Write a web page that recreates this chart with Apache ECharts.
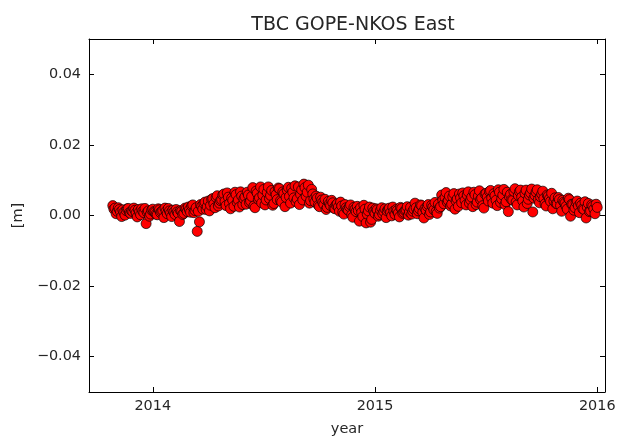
<!DOCTYPE html>
<html>
<head>
<meta charset="utf-8">
<script src="https://cdn.jsdelivr.net/npm/echarts@6/dist/echarts.min.js"></script>
<style>html,body{margin:0;padding:0;background:#fff}#c{width:618px;height:436px}</style>
</head>
<body>
<div id="c"></div>
<script>
// decimal years of the observations (first pass)
const years = [
2013.82,2013.83,2013.84,2013.85,2013.86,2013.87,2013.88,2013.89,2013.90,2013.91,
2013.92,2013.93,2013.94,2013.95,2013.96,2013.97,2013.98,2013.99,2014.00,2014.01,
2014.02,2014.03,2014.04,2014.05,2014.06,2014.07,2014.08,2014.09,2014.10,2014.11,
2014.12,2014.13,2014.14,2014.15,2014.16,2014.17,2014.18,2014.19,2014.20,2014.21,
2014.22,2014.23,2014.24,2014.25,2014.26,2014.27,2014.28,2014.29,2014.30,2014.31,
2014.32,2014.33,2014.34,2014.35,2014.36,2014.37,2014.38,2014.39,2014.40,2014.41,
2014.42,2014.43,2014.44,2014.45,2014.46,2014.47,2014.48,2014.49,2014.50,2014.51,
2014.52,2014.53,2014.54,2014.55,2014.56,2014.57,2014.58,2014.59,2014.60,2014.61,
2014.62,2014.63,2014.64,2014.65,2014.66,2014.67,2014.68,2014.69,2014.70,2014.71,
2014.72,2014.73,2014.74,2014.75,2014.76,2014.77,2014.78,2014.79,2014.80,2014.81,
2014.82,2014.83,2014.84,2014.85,2014.86,2014.87,2014.88,2014.89,2014.90,2014.91,
2014.92,2014.93,2014.94,2014.95,2014.96,2014.97,2014.98,2014.99,2015.00,2015.01,
2015.02,2015.03,2015.04,2015.05,2015.06,2015.07,2015.08,2015.09,2015.10,2015.11,
2015.12,2015.13,2015.14,2015.15,2015.16,2015.17,2015.18,2015.19,2015.20,2015.21,
2015.22,2015.23,2015.24,2015.25,2015.26,2015.27,2015.28,2015.29,2015.30,2015.31,
2015.32,2015.33,2015.34,2015.35,2015.36,2015.37,2015.38,2015.39,2015.40,2015.41,
2015.42,2015.43,2015.44,2015.45,2015.46,2015.47,2015.48,2015.49,2015.50,2015.51,
2015.52,2015.53,2015.54,2015.55,2015.56,2015.57,2015.58,2015.59,2015.60,2015.61,
2015.62,2015.63,2015.64,2015.65,2015.66,2015.67,2015.68,2015.69,2015.70,2015.71,
2015.72,2015.73,2015.74,2015.75,2015.76,2015.77,2015.78,2015.79,2015.80,2015.81,
2015.82,2015.83,2015.84,2015.85,2015.86,2015.87,2015.88,2015.89,2015.90,2015.91,
2015.92,2015.93,2015.94,2015.95,2015.96,2015.97,2015.98,2015.99,2016.00
];
// East component [m] (first pass)
const east = [
0.0028,0.0021,0.0012,0.0017,-0.0003,0.0009,0.0014,0.0020,0.0006,0.0011,
0.0015,-0.0004,0.0010,0.0019,0.0008,-0.0023,0.0013,0.0004,0.0018,0.0009,
0.0002,0.0016,0.0011,-0.0006,0.0012,0.0020,0.0007,0.0015,0.0003,0.0010,
-0.0017,0.0012,0.0006,0.0018,0.0024,0.0009,0.0030,0.0014,-0.0045,-0.0018,
0.0026,0.0034,0.0017,0.0041,0.0029,0.0048,0.0022,0.0056,0.0035,0.0045,
0.0061,0.0028,0.0052,0.0019,0.0043,0.0066,0.0037,0.0024,0.0055,0.0047,
0.0032,0.0058,0.0041,0.0079,0.0022,0.0063,0.0050,0.0036,0.0074,0.0044,
0.0081,0.0057,0.0029,0.0068,0.0045,0.0076,0.0038,0.0062,0.0051,0.0080,
0.0035,0.0066,0.0084,0.0047,0.0031,0.0073,0.0089,0.0055,0.0086,0.0042,
0.0061,0.0038,0.0049,0.0025,0.0044,0.0031,0.0017,0.0040,0.0028,0.0036,
0.0019,0.0033,0.0012,0.0027,0.0004,0.0022,0.0015,0.0030,-0.0005,0.0018,
0.0026,-0.0016,0.0009,0.0029,-0.0021,0.0013,-0.0019,0.0021,0.0006,0.0016,
0.0002,0.0022,0.0011,-0.0006,0.0018,0.0008,0.0024,0.0003,0.0014,-0.0004,
0.0020,0.0009,0.0016,0.0001,0.0023,0.0012,0.0035,0.0005,0.0019,0.0028,
-0.0007,0.0015,0.0031,0.0010,0.0024,0.0037,0.0006,0.0021,0.0058,0.0033,
0.0065,0.0042,0.0027,0.0053,0.0018,0.0047,0.0061,0.0036,0.0056,0.0030,
0.0067,0.0044,0.0025,0.0059,0.0038,0.0070,0.0049,0.0021,0.0063,0.0041,
0.0071,0.0035,0.0056,0.0028,0.0066,0.0047,0.0074,0.0039,0.0011,0.0060,
0.0043,0.0076,0.0030,0.0068,0.0052,0.0024,0.0072,0.0046,0.0064,0.0010,
0.0057,0.0073,0.0036,0.0061,0.0048,0.0027,0.0055,0.0040,0.0019,0.0050,
0.0033,0.0045,0.0012,0.0038,0.0026,0.0049,-0.0002,0.0031,0.0022,0.0041,
0.0008,0.0029,0.0017,-0.0007,0.0034,0.0013,0.0026,0.0005,0.0023
];
// decimal years of the observations (second pass, in between)
const years2 = [
2013.825,2013.835,2013.845,2013.855,2013.865,2013.875,2013.885,2013.895,2013.905,2013.915,
2013.925,2013.935,2013.945,2013.955,2013.965,2013.975,2013.985,2013.995,2014.005,2014.015,
2014.025,2014.035,2014.045,2014.055,2014.065,2014.075,2014.085,2014.095,2014.105,2014.115,
2014.125,2014.135,2014.145,2014.155,2014.165,2014.175,2014.185,2014.195,2014.205,2014.215,
2014.225,2014.235,2014.245,2014.255,2014.265,2014.275,2014.285,2014.295,2014.305,2014.315,
2014.325,2014.335,2014.345,2014.355,2014.365,2014.375,2014.385,2014.395,2014.405,2014.415,
2014.425,2014.435,2014.445,2014.455,2014.465,2014.475,2014.485,2014.495,2014.505,2014.515,
2014.525,2014.535,2014.545,2014.555,2014.565,2014.575,2014.585,2014.595,2014.605,2014.615,
2014.625,2014.635,2014.645,2014.655,2014.665,2014.675,2014.685,2014.695,2014.705,2014.715,
2014.725,2014.735,2014.745,2014.755,2014.765,2014.775,2014.785,2014.795,2014.805,2014.815,
2014.825,2014.835,2014.845,2014.855,2014.865,2014.875,2014.885,2014.895,2014.905,2014.915,
2014.925,2014.935,2014.945,2014.955,2014.965,2014.975,2014.985,2014.995,2015.005,2015.015,
2015.025,2015.035,2015.045,2015.055,2015.065,2015.075,2015.085,2015.095,2015.105,2015.115,
2015.125,2015.135,2015.145,2015.155,2015.165,2015.175,2015.185,2015.195,2015.205,2015.215,
2015.225,2015.235,2015.245,2015.255,2015.265,2015.275,2015.285,2015.295,2015.305,2015.315,
2015.325,2015.335,2015.345,2015.355,2015.365,2015.375,2015.385,2015.395,2015.405,2015.415,
2015.425,2015.435,2015.445,2015.455,2015.465,2015.475,2015.485,2015.495,2015.505,2015.515,
2015.525,2015.535,2015.545,2015.555,2015.565,2015.575,2015.585,2015.595,2015.605,2015.615,
2015.625,2015.635,2015.645,2015.655,2015.665,2015.675,2015.685,2015.695,2015.705,2015.715,
2015.725,2015.735,2015.745,2015.755,2015.765,2015.775,2015.785,2015.795,2015.805,2015.815,
2015.825,2015.835,2015.845,2015.855,2015.865,2015.875,2015.885,2015.895,2015.905,2015.915,
2015.925,2015.935,2015.945,2015.955,2015.965,2015.975,2015.985,2015.995
];
// East component [m] (second pass)
const east2 = [
0.0018,0.0005,0.0022,0.0010,0.0016,0.0001,0.0019,0.0008,0.0013,0.0021,
0.0007,0.0017,0.0002,0.0012,0.0020,0.0009,-0.0002,0.0015,0.0011,0.0004,
0.0019,0.0008,0.0014,0.0021,0.0005,0.0013,-0.0003,0.0010,0.0017,0.0006,
0.0014,0.0003,0.0021,0.0011,0.0016,0.0027,0.0008,0.0022,0.0012,0.0031,
0.0018,0.0038,0.0025,0.0013,0.0046,0.0033,0.0051,0.0027,0.0042,0.0058,
0.0040,0.0064,0.0034,0.0049,0.0026,0.0059,0.0044,0.0067,0.0031,0.0053,
0.0066,0.0037,0.0054,0.0027,0.0069,0.0046,0.0081,0.0058,0.0030,0.0065,
0.0048,0.0071,0.0034,0.0059,0.0078,0.0042,0.0067,0.0025,0.0072,0.0054,
0.0077,0.0050,0.0039,0.0081,0.0060,0.0044,0.0079,0.0066,0.0035,0.0074,
0.0047,0.0055,0.0029,0.0052,0.0037,0.0046,0.0023,0.0033,0.0043,0.0021,
0.0030,0.0024,0.0038,0.0009,0.0031,0.0017,0.0025,0.0002,0.0023,0.0011,
0.0014,0.0022,-0.0003,0.0018,0.0004,0.0024,-0.0011,0.0012,0.0019,-0.0002,
0.0015,0.0005,0.0019,0.0013,0.0021,-0.0001,0.0012,0.0017,0.0007,0.0023,
0.0006,0.0014,0.0025,0.0010,0.0004,0.0018,0.0022,0.0013,0.0030,0.0009,
0.0020,0.0026,0.0003,0.0029,0.0016,0.0011,0.0032,0.0025,0.0044,0.0051,
0.0038,0.0055,0.0032,0.0062,0.0041,0.0026,0.0050,0.0064,0.0043,0.0058,
0.0035,0.0052,0.0066,0.0031,0.0055,0.0045,0.0028,0.0061,0.0052,0.0068,
0.0049,0.0062,0.0043,0.0073,0.0037,0.0058,0.0031,0.0066,0.0053,0.0045,
0.0068,0.0038,0.0057,0.0072,0.0041,0.0063,0.0034,0.0058,0.0075,0.0049,
0.0066,0.0045,0.0053,0.0069,0.0033,0.0058,0.0047,0.0063,0.0041,0.0034,
0.0051,0.0028,0.0043,0.0035,0.0018,0.0045,0.0032,0.0015,0.0037,0.0027,
0.0035,0.0019,0.0039,0.0024,0.0011,0.0030,0.0018,0.0032
];
const xTicks = [2014, 2015, 2016];
const yTicks = [-0.04, -0.02, 0.00, 0.02, 0.04];
const titleText = 'TBC GOPE-NKOS East';
const xName = 'year';
const yName = '[m]';

const FONT = 'DejaVu Sans';
const points = years.map((y, i) => [y, east[i]])
  .concat(years2.map((y, i) => [y, east2[i]]))
  .sort((a, b) => a[0] - b[0]);
const yFmt = v => { const s = Math.abs(v).toFixed(2); return (v < -1e-9 ? '\u2212' : '') + s; };

const xMin = 2013.713, xMax = 2016.035, yMin = -0.05, yMax = 0.05;
const axisLineStyle = { show: true, onZero: false, lineStyle: { color: '#000', width: 1 } };
const tickStyle = { lineStyle: { color: '#000', width: 1 } };
const TXT = '#262626';

const chart = echarts.init(document.getElementById('c'), null, { renderer: 'canvas' });
chart.setOption({
  animation: false,
  backgroundColor: '#fff',
  title: {
    text: titleText, left: 348, top: 11, textAlign: 'center',
    textStyle: { fontFamily: FONT, fontSize: 19, fontWeight: 'normal', color: TXT }
  },
  grid: { left: 89, right: 13, top: 39, bottom: 44, containLabel: false, outerBoundsMode: 'none' },
  xAxis: [{
    type: 'value', min: xMin, max: xMax, position: 'bottom',
    name: xName, nameLocation: 'middle', nameGap: 30,
    nameTextStyle: { fontFamily: FONT, fontSize: 14.5, color: TXT },
    axisLine: axisLineStyle,
    axisTick: { inside: true, length: 5, customValues: xTicks, ...tickStyle },
    axisLabel: { customValues: xTicks, margin: 7, fontFamily: FONT, fontSize: 14.4, color: TXT, formatter: v => String(Math.round(v)) },
    splitLine: { show: false }
  }, {
    type: 'value', min: xMin, max: xMax, position: 'top',
    axisLine: axisLineStyle,
    axisTick: { inside: true, length: 5, customValues: xTicks, ...tickStyle },
    axisLabel: { show: false }, splitLine: { show: false }
  }],
  yAxis: [{
    type: 'value', min: yMin, max: yMax, position: 'left',
    name: yName, nameLocation: 'middle', nameGap: 63, nameRotate: 90,
    nameTextStyle: { fontFamily: FONT, fontSize: 14.5, color: TXT },
    axisLine: axisLineStyle,
    axisTick: { inside: true, length: 5, customValues: yTicks, ...tickStyle },
    axisLabel: { customValues: yTicks, margin: 8, fontFamily: FONT, fontSize: 14.4, color: TXT, formatter: yFmt },
    splitLine: { show: false }
  }, {
    type: 'value', min: yMin, max: yMax, position: 'right',
    axisLine: axisLineStyle,
    axisTick: { inside: true, length: 5, customValues: yTicks, ...tickStyle },
    axisLabel: { show: false }, splitLine: { show: false }
  }],
  series: [{
    type: 'scatter', xAxisIndex: 0, yAxisIndex: 0,
    data: points, symbol: 'circle', symbolSize: 10,
    itemStyle: { color: '#ff0000', borderColor: '#000', borderWidth: 0.7, opacity: 1 },
    emphasis: { disabled: true }
  }]
});
</script>
</body>
</html>
